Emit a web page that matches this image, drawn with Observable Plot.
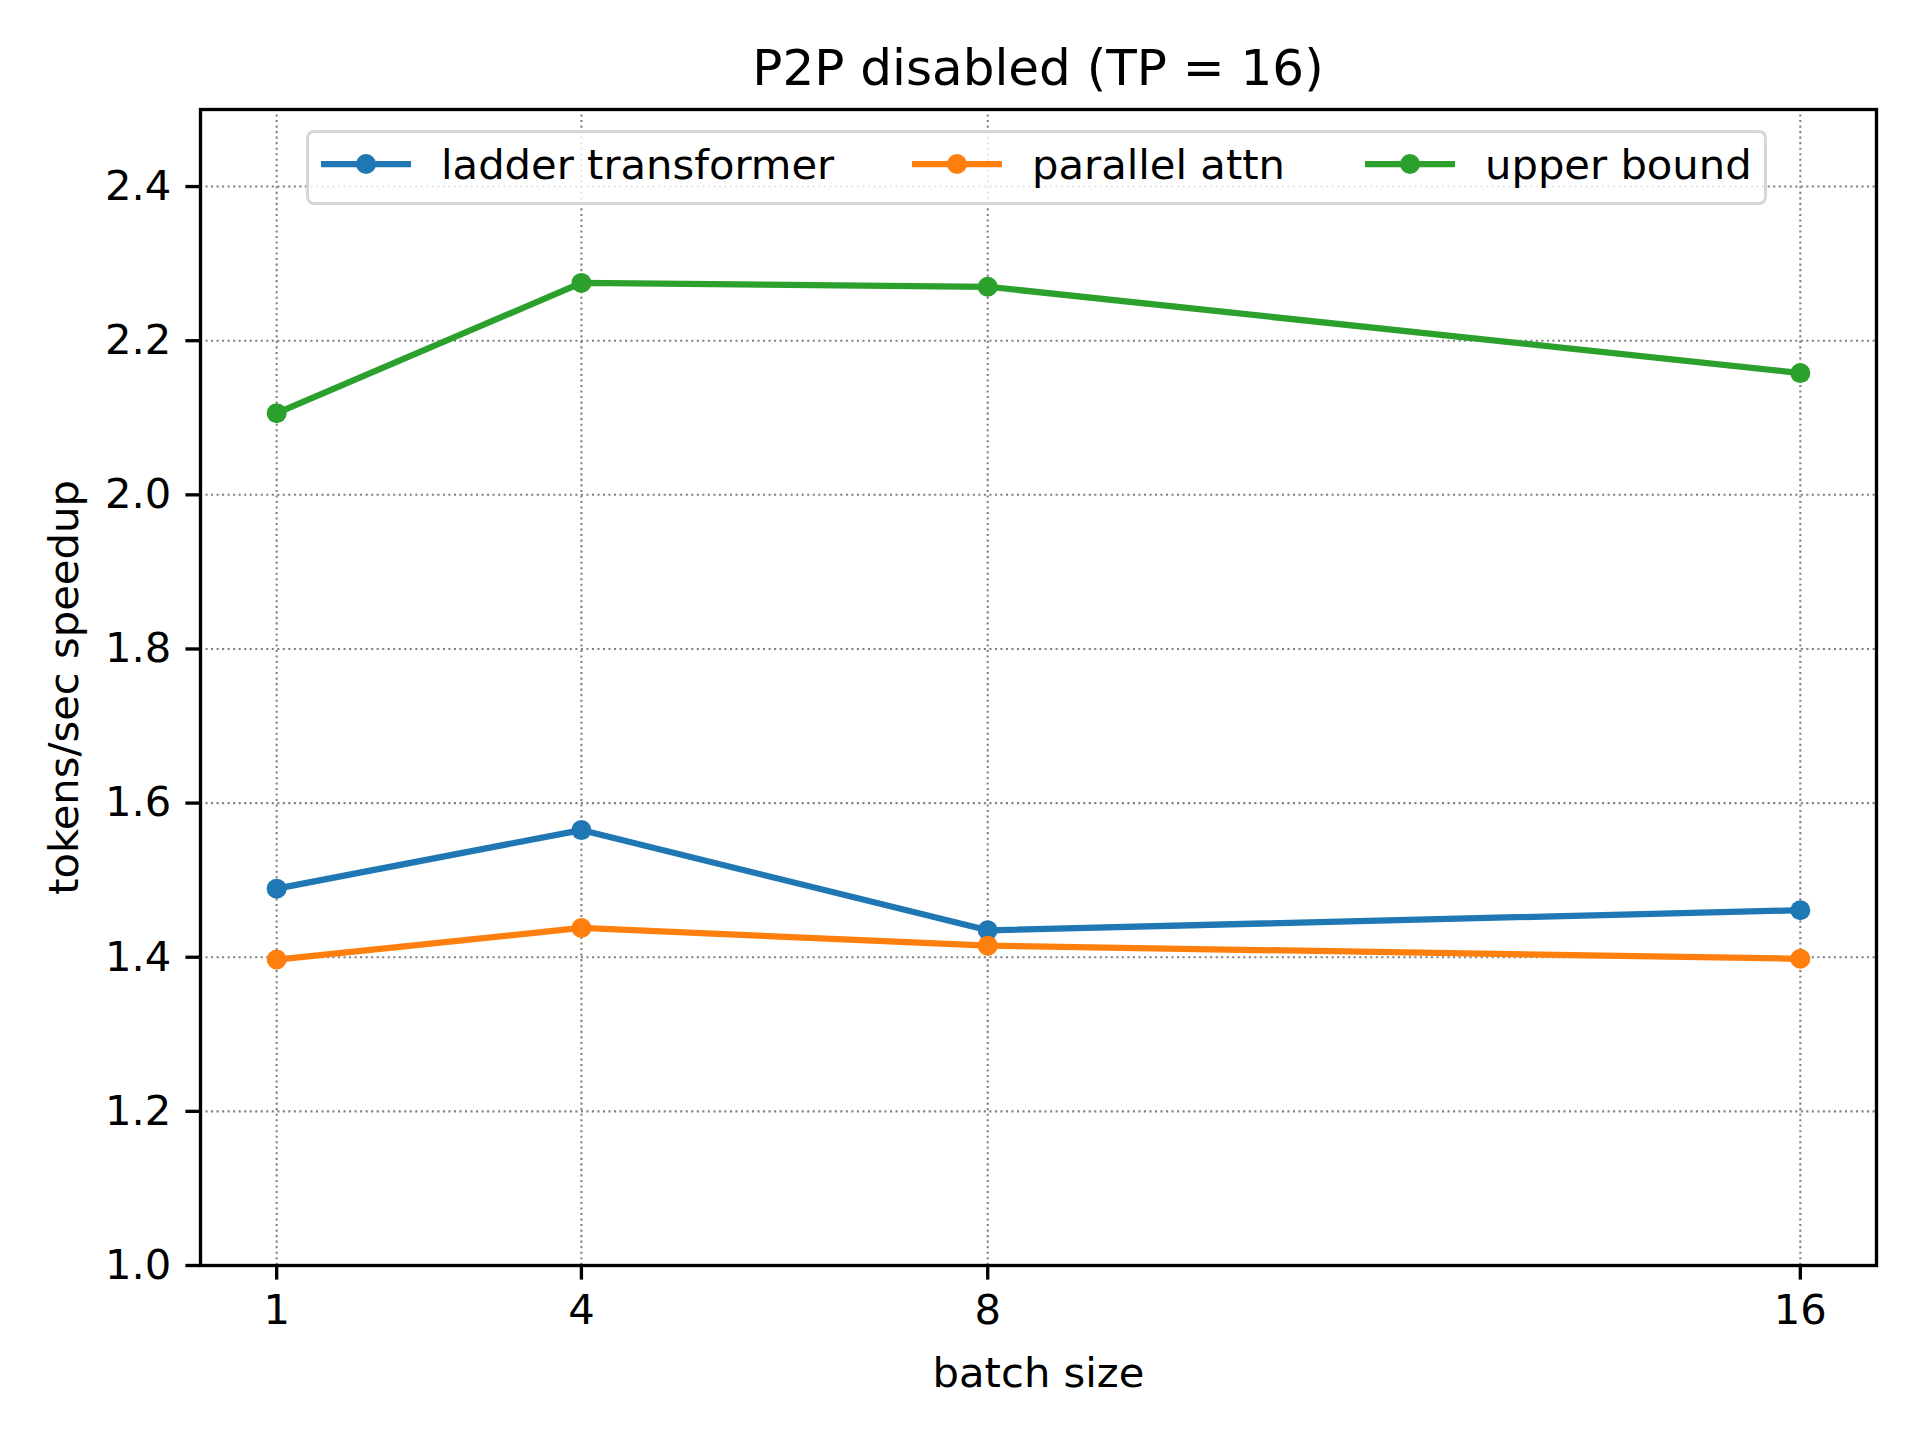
<!DOCTYPE html>
<html>
<head>
<meta charset="utf-8">
<script src="https://cdn.jsdelivr.net/npm/d3@7"></script>
<script src="https://cdn.jsdelivr.net/npm/@observablehq/plot@0.6"></script>
<style>
  html, body { margin: 0; padding: 0; background: white; }
  #wrap { position: relative; width: 1920px; height: 1440px; background: white; font-family: "DejaVu Sans", sans-serif; color: black; }
  #title { box-sizing: border-box; height: 100px; padding-top: 37.7px; line-height: 60px; font-size: 50px; margin-left: 200px; width: 1676px; text-align: center; white-space: nowrap; }
  #chart svg { display: block; }
  .legend-box { position: absolute; box-sizing: border-box; left: 306px; top: 130px; width: 1461px; height: 75px; border: 3.5px solid rgba(204,204,204,0.8); border-radius: 8px; background: rgba(255,255,255,0.8); }
  .lg-text { position: absolute; top: 139.6px; font-size: 41.7px; line-height: 50px; white-space: nowrap; }
  .lg-handle { position: absolute; top: 144px; width: 90px; height: 40px; overflow: visible; }
</style>
</head>
<body>
<div id="wrap">
  <div id="title">P2P disabled (TP = 16)</div>
  <div id="chart"></div>
  <div id="legend"></div>
</div>
<script>
// ---- data ----
const batchSizes = [1, 4, 8, 16];
const seriesNames = ["ladder transformer", "parallel attn", "upper bound"];
const ladderTransformer = [1.489, 1.565, 1.435, 1.461];
const parallelAttn = [1.397, 1.438, 1.415, 1.398];
const upperBound = [2.106, 2.275, 2.270, 2.158];
const seriesColors = ["#1f77b4", "#ff7f0e", "#2ca02c"];
const yTickValues = [1.0, 1.2, 1.4, 1.6, 1.8, 2.0, 2.2, 2.4];
const xTickValues = [1, 4, 8, 16];

const seriesValues = [ladderTransformer, parallelAttn, upperBound];
const rows = seriesValues.flatMap((vals, i) =>
  vals.map((v, j) => ({ series: seriesNames[i], x: batchSizes[j], y: v }))
);

const gridStyle = { stroke: "#808080", strokeOpacity: 1, strokeWidth: 2.08, strokeDasharray: "2.08,3.44" };

const chart = Plot.plot({
  width: 1920,
  height: 1340,
  marginTop: 9,
  marginBottom: 175,
  marginLeft: 200,
  marginRight: 44,
  style: { fontFamily: "'DejaVu Sans', sans-serif", fontSize: "41.7px", background: "white", overflow: "visible", color: "black" },
  x: { type: "linear", domain: [0.25, 16.75] },
  y: { domain: [1.0, 2.5] },
  color: { domain: seriesNames, range: seriesColors },
  marks: [
    Plot.gridX({ ticks: xTickValues, ...gridStyle }),
    Plot.gridY({ ticks: yTickValues, ...gridStyle }),
    Plot.line(rows, { x: "x", y: "y", z: "series", stroke: "series", strokeWidth: 6.25, strokeLinejoin: "round", strokeLinecap: "butt" }),
    Plot.dot(rows, { x: "x", y: "y", fill: "series", r: 10, stroke: null }),
    Plot.frame({ stroke: "black", strokeWidth: 3.33 }),
    Plot.axisX({ ticks: xTickValues, tickFormat: d => String(d), tickSize: 14.6, tickPadding: 14.6, strokeWidth: 3.33, label: null, fontSize: 41.7 }),
    Plot.axisY({ ticks: yTickValues, tickFormat: d => d.toFixed(1), tickSize: 14.6, tickPadding: 14.6, strokeWidth: 3.33, label: null, fontSize: 41.7 }),
    Plot.text(["batch size"], { frameAnchor: "bottom", dy: 107.7, text: d => d, lineAnchor: "middle", textAnchor: "middle", fill: "black", fontSize: 41.7 }),
    Plot.text(["tokens/sec speedup"], { frameAnchor: "left", dx: -136.3, rotate: -90, text: d => d, lineAnchor: "middle", textAnchor: "middle", fill: "black", fontSize: 41.7 })
  ]
});
document.getElementById("chart").appendChild(chart);

// ---- legend (HTML) ----
const legend = document.getElementById("legend");
const box = document.createElement("div");
box.className = "legend-box";
legend.appendChild(box);
const handleLefts = [321, 912, 1365];
const textLefts = [441, 1032, 1485];
seriesNames.forEach((name, i) => {
  const ns = "http://www.w3.org/2000/svg";
  const svg = document.createElementNS(ns, "svg");
  svg.setAttribute("class", "lg-handle");
  svg.setAttribute("width", "90");
  svg.setAttribute("height", "40");
  svg.style.left = handleLefts[i] + "px";
  const line = document.createElementNS(ns, "line");
  line.setAttribute("x1", 0); line.setAttribute("x2", 90);
  line.setAttribute("y1", 20); line.setAttribute("y2", 20);
  line.setAttribute("stroke", seriesColors[i]);
  line.setAttribute("stroke-width", 6.25);
  svg.appendChild(line);
  const c = document.createElementNS(ns, "circle");
  c.setAttribute("cx", 45); c.setAttribute("cy", 20); c.setAttribute("r", 10);
  c.setAttribute("fill", seriesColors[i]);
  svg.appendChild(c);
  legend.appendChild(svg);
  const t = document.createElement("div");
  t.className = "lg-text";
  t.style.left = textLefts[i] + "px";
  t.textContent = name;
  legend.appendChild(t);
});
</script>
</body>
</html>
